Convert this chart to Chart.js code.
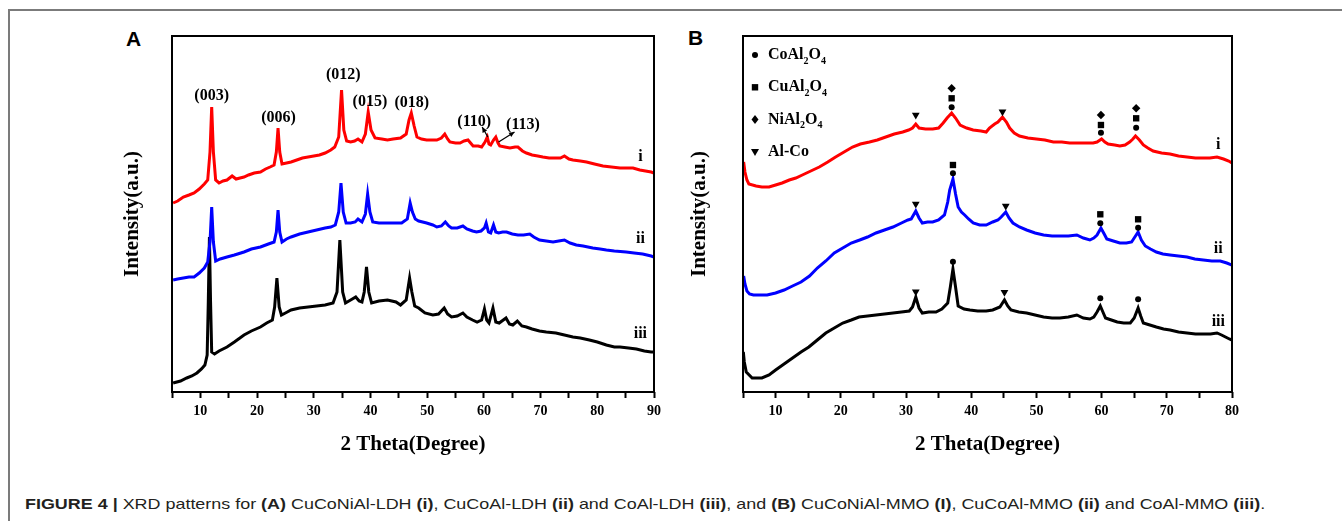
<!DOCTYPE html>
<html>
<head>
<meta charset="utf-8">
<script src="https://cdn.jsdelivr.net/npm/chart.js@4.4.0/dist/chart.umd.min.js"></script>
<style>
    body { margin: 0; background: #fff; width: 1342px; height: 521px; overflow: hidden; position: relative; }
    .frame { position: absolute; left: 8px; top: 9px; right: -4px; bottom: -4px; border-top: 2px solid #7b7b7b; border-left: 2px solid #7b7b7b; }
    .panel { position: absolute; top: 0; }
    .letter { position: absolute; font: bold 21px "Liberation Sans", Arial, sans-serif; color: #000; }
    #caption { position: absolute; left: 25px; top: 495px; font: 15px "Liberation Sans", Arial, sans-serif; color: #231f20; white-space: nowrap; transform-origin: 0 0; }
</style>
</head>
<body>
<div class="frame"></div>
<div class="letter" style="left:126px; top:27px;">A</div>
<div class="letter" style="left:688px; top:26px;">B</div>
<canvas id="chart-a" class="panel" style="left:0" width="690" height="470"></canvas>
<canvas id="chart-b" class="panel" style="left:690px" width="652" height="470"></canvas>
<div id="caption"><b>FIGURE 4 |</b> XRD patterns for <b>(A)</b> CuCoNiAl-LDH <b>(i)</b>, CuCoAl-LDH <b>(ii)</b> and CoAl-LDH <b>(iii)</b>, and <b>(B)</b> CuCoNiAl-MMO <b>(I)</b>, CuCoAl-MMO <b>(ii)</b> and CoAl-MMO <b>(iii)</b>.</div>

<script>
// ── Panel A: LDH patterns (2θ, intensity a.u.) ───────────────────────────────

var aRedX = [5.2, 6, 7, 8, 8.9, 9.8, 10.7, 11.3, 11.7, 12.0, 12.3, 12.7, 13.3, 14, 14.7, 15.6, 16.3, 17, 17.7, 18.5, 19.5, 20.6, 21.5, 22.3, 23.0, 23.4, 23.7, 24.0, 24.4, 25.2, 26, 27, 28, 29, 30, 31, 32, 33, 33.7, 34.4, 34.9, 35.3, 35.8, 36.5, 37.2, 37.8, 38.5, 39.1, 39.6, 40.1, 40.8, 42, 43, 44, 45.3, 46.3, 46.8, 47.2, 47.7, 48.2, 49, 49.9, 51, 51.7, 52.5, 53.1, 53.6, 54, 55, 55.8, 56.5, 57.2, 58.1, 59.0, 59.6, 60.2, 60.6, 60.9, 61.2, 61.7, 62.1, 62.5, 62.8, 63.7, 64.6, 65.5, 66, 66.8, 67.5, 68.5, 69.5, 70.4, 71.5, 72.5, 73.5, 74.2, 75, 75.7, 77, 78.1, 79.5, 81, 82.5, 84, 85.2, 86.3, 87.5, 88.5, 89.5, 90];
var aRedY = [189, 191, 195, 197, 199, 203, 208, 212, 240, 285, 240, 212, 209, 211, 212, 216, 213, 214, 215, 217, 219, 220, 223, 225, 227, 240, 264, 240, 228, 229, 230, 232, 234, 235, 236, 237, 239, 242, 245, 255, 302, 262, 251, 250, 251, 253, 250, 258, 280, 262, 254, 253, 252, 253, 254, 258, 272, 279, 266, 255, 253, 252, 252, 252, 254, 258, 253, 250, 249, 249, 251, 252, 246, 246, 245, 250, 255, 248, 247, 252, 255, 249, 246, 245, 244, 245, 245, 241, 239, 237, 236, 235, 234, 234, 234, 236, 233, 232, 231, 230, 228, 226, 225, 224, 224, 224, 222, 221, 220, 219];

var aBlueX = [5.2, 6, 7, 8, 8.9, 9.8, 10.7, 11.3, 11.7, 12.0, 12.3, 12.7, 13.5, 14.7, 16, 17.7, 19, 20.6, 22, 23.0, 23.4, 23.7, 24.0, 24.4, 25.2, 26, 27.5, 29, 30.5, 32, 33, 33.8, 34.4, 34.8, 35.2, 35.7, 36.5, 37.3, 37.8, 38.5, 39.1, 39.5, 39.9, 40.4, 41.5, 43, 44.5, 45.5, 46.5, 47.0, 47.4, 47.9, 48.5, 49.9, 51, 51.7, 52.5, 53.2, 53.8, 54.3, 55.3, 56.3, 57, 58, 58.7, 59.5, 60.1, 60.4, 60.8, 61.2, 61.7, 62.1, 62.6, 63.3, 64, 65, 66, 67, 68.1, 68.8, 69.8, 71, 72.2, 73.2, 74.2, 75.2, 76.3, 77.5, 79.2, 80.5, 81.6, 83, 85.1, 86.5, 88, 89.5, 90];
var aBlueY = [112, 113, 114, 115, 115, 119, 124, 130, 150, 185, 150, 131, 133, 135, 137, 140, 143, 145, 148, 150, 160, 182, 160, 150, 153, 155, 158, 160, 162, 164, 165, 167, 180, 209, 180, 169, 169, 170, 173, 170, 178, 198, 180, 170, 169, 169, 169, 169, 173, 189, 180, 173, 171, 169, 167, 165, 166, 170, 166, 164, 164, 166, 163, 161, 160, 161, 164, 169, 160, 159, 167, 160, 159, 160, 160, 158, 157, 157, 158, 155, 152, 151, 150, 151, 152, 149, 147, 146, 144, 143, 142, 141, 140, 139, 138, 136, 135];

var aBlackX = [5.2, 6.5, 7.6, 8.5, 9.4, 10.2, 10.8, 11.2, 11.4, 11.6, 11.8, 12.0, 12.5, 13.3, 14.7, 16, 17.7, 19, 20.6, 21.7, 22.7, 23.1, 23.5, 23.9, 24.3, 25, 26, 27.5, 29, 30.5, 32, 33.4, 34.1, 34.6, 35.1, 35.6, 36.5, 37.4, 38, 38.5, 38.9, 39.3, 39.7, 40.2, 41.5, 43, 44.5, 45.3, 46.3, 46.9, 47.3, 47.8, 48.5, 49.6, 51, 52, 53, 53.6, 54.3, 55.3, 56.3, 57, 58, 58.8, 59.6, 60.1, 60.5, 60.9, 61.6, 62.1, 62.7, 63.9, 64.5, 65.1, 65.9, 66.7, 67.5, 68.5, 69.8, 71, 72.7, 74.2, 75.7, 77, 78.6, 80, 81.6, 83, 84, 85.5, 86.9, 88.3, 89.5, 90];
var aBlackY = [9, 11, 14, 16, 19, 23, 27, 37, 90, 155, 90, 40, 38, 41, 45, 50, 57, 61, 65, 69, 72, 85, 114, 85, 77, 79, 82, 84, 85, 86, 87, 89, 100, 152, 100, 89, 92, 95, 91, 90, 100, 125, 100, 89, 91, 92, 90, 87, 92, 114, 100, 86, 84, 79, 77, 78, 84, 78, 75, 76, 79, 75, 72, 70, 72, 83, 72, 69, 84, 70, 69, 74, 68, 67, 71, 66, 65, 63, 61, 60, 59, 57, 55, 54, 52, 50, 47, 45, 45, 44, 43, 41, 40, 40];

// peak indices above pattern i
var aPeakNames = ['(003)', '(006)', '(012)', '(015)', '(018)', '(110)', '(113)'];
var aPeakX     = [12, 23.8, 35.2, 39.9, 47.3, 58.3, 66.9];
var aPeakY     = [296, 274, 317, 290, 289, 270, 267];
// arrows: from peak (x1,y1) to label (x2,y2)
var aArrows = [[60.7, 255, 59.7, 265], [62.6, 250, 65.4, 260]];

var aTraceNames = ['i', 'ii', 'iii'];
var aTraceX     = [87.6, 87.6, 87.6];
var aTraceY     = [235, 153, 58];

// ── Panel B: MMO patterns ───────────────────────────────────────────────────

var bRedX = [5.1, 5.3, 5.6, 5.9, 7, 7.9, 9, 10, 11, 12.1, 13.1, 14.1, 15.4, 16.7, 18, 19.2, 20.5, 21.8, 23, 24.4, 25.6, 26.9, 28.2, 29.5, 30.4, 31, 31.5, 32, 33, 34.1, 35, 35.7, 36.3, 37, 37.6, 38.3, 39.3, 40.3, 41.5, 42.3, 42.8, 43.6, 44.1, 44.8, 45.4, 45.9, 46.6, 47.4, 48.7, 50, 51.3, 52.6, 53.9, 55.1, 56.4, 57.7, 58.7, 59.3, 60, 60.5, 61, 62, 62.8, 63.6, 64.3, 64.8, 65.2, 65.8, 66.4, 67.1, 67.9, 69.2, 70.5, 71.8, 73.1, 74.4, 75.6, 76.6, 77.7, 78.7, 79.5, 80];
var bRedY = [230, 220, 212, 208, 206, 205, 205, 207, 209, 212, 214, 217, 221, 225, 230, 235, 240, 245, 248, 250, 252, 255, 258, 260, 262, 264, 268, 264, 263, 263, 264, 269, 274, 279, 274, 267, 264, 262, 261, 260, 264, 268, 270, 275, 270, 264, 259, 256, 254, 253, 252, 250, 250, 249, 249, 249, 249, 250, 253, 250, 248, 247, 246, 247, 250, 253, 256, 252, 247, 244, 241, 239, 238, 236, 235, 234, 234, 234, 235, 233, 231, 229];

var bBlueX = [5.1, 5.3, 5.6, 6, 6.6, 7.6, 8.7, 10, 11.3, 12.6, 13.9, 15.2, 16.4, 17.7, 19, 20.3, 21.6, 22.9, 24.1, 25.4, 26.7, 28, 29.3, 30.3, 30.8, 31.5, 32, 32.5, 33.3, 34.1, 35, 35.9, 36.4, 36.7, 37.2, 37.6, 38, 38.5, 39, 39.6, 40.3, 41.3, 42.3, 43.3, 44.1, 44.6, 45.3, 45.8, 46.4, 47.4, 48.5, 49.8, 51.1, 52.4, 53.6, 54.9, 56.2, 57.2, 58.2, 58.8, 59.3, 59.9, 60.4, 60.8, 61.8, 62.8, 63.8, 64.6, 65.1, 65.6, 66.1, 66.7, 67.5, 68.4, 69.4, 70.5, 71.8, 73.1, 74.3, 75.6, 76.9, 78.2, 79.2, 80];
var bBlueY = [116, 108, 101, 98, 97, 97, 97, 99, 102, 106, 110, 116, 124, 131, 139, 144, 149, 152, 155, 159, 162, 165, 169, 172, 173, 181, 174, 169, 170, 170, 172, 177, 190, 202, 213, 198, 185, 180, 177, 173, 169, 167, 167, 170, 172, 175, 180, 174, 169, 165, 162, 159, 157, 156, 156, 156, 157, 154, 152, 154, 157, 164, 158, 153, 151, 149, 149, 150, 155, 160, 152, 146, 143, 140, 138, 137, 136, 135, 133, 132, 131, 131, 129, 127];

var bBlackX = [5.05, 5.2, 5.5, 6.4, 7.9, 9, 10, 11.3, 12.6, 13.9, 15.1, 16.4, 17.7, 19, 20.3, 21.6, 22.8, 24.1, 25.4, 26.7, 28, 29.3, 30.5, 31, 31.5, 32, 32.5, 33.5, 34.6, 35.5, 36.4, 36.8, 37.2, 37.6, 38, 38.9, 39.8, 41, 42.3, 43.3, 44.4, 45.1, 45.6, 46.1, 47.3, 48.5, 49.8, 51.1, 52.4, 53.6, 54.9, 56.2, 57.2, 58.2, 58.8, 59.3, 59.8, 60.2, 60.6, 61.5, 62.4, 63.4, 64.4, 65, 65.6, 66, 66.4, 67.4, 68.4, 69.5, 70.5, 71.8, 73.1, 74.4, 75.6, 76.7, 77.7, 78.4, 79, 79.6, 80];
var bBlackY = [40, 30, 20, 14, 14, 17, 22, 28, 34, 40, 45, 52, 59, 64, 69, 72, 75, 76, 77, 78, 79, 80, 81, 85, 95, 84, 79, 80, 80, 83, 89, 105, 123, 105, 86, 83, 82, 81, 81, 82, 85, 92, 86, 82, 80, 79, 77, 75, 74, 74, 75, 77, 74, 73, 75, 80, 86, 80, 74, 72, 70, 69, 69, 74, 84, 76, 69, 67, 65, 63, 62, 60, 59, 58, 58, 58, 59, 57, 55, 53, 52];

// phase markers above the peaks
var bCircle  = [[37, 284.7], [59.9, 259.3], [65.3, 264.3], [37.2, 218.7], [59.8, 168.7], [65.6, 164.3], [37.2, 130.3], [59.8, 93.7], [65.6, 92.7]];
var bSquare  = [[37, 293.7], [59.9, 267], [65.3, 273.7], [37.2, 227], [59.8, 177.7], [65.6, 172.7]];
var bDiamond = [[37, 303.7], [59.9, 277], [65.3, 283.7]];
var bTri     = [[31.5, 277], [44.8, 280.3], [31.5, 188], [45.3, 186], [31.5, 100.3], [45.1, 99.7]];

var bLegend = [
    { shape: 'circle',  parts: [['CoAl', 0], ['2', 1], ['O', 0], ['4', 1]] },
    { shape: 'square',  parts: [['CuAl', 0], ['2', 1], ['O', 0], ['4', 1]] },
    { shape: 'diamond', parts: [['NiAl', 0], ['2', 1], ['O', 0], ['4', 1]] },
    { shape: 'tri',     parts: [['Al-Co', 0]] }
];

var bTraceNames = ['i', 'ii', 'iii'];
var bTraceX     = [77.9, 77.9, 77.9];
var bTraceY     = [247, 143, 70];

// ── helpers ─────────────────────────────────────────────────────────────────

var SERIF = '"Liberation Serif", "Times New Roman", serif';

function pts(xs, ys) {
    return xs.map(function (x, i) { return { x: x, y: ys[i] }; });
}

function trace(xs, ys, color) {
    return {
        data: pts(xs, ys),
        showLine: true,
        borderColor: color,
        borderWidth: 3,
        pointRadius: 0,
        tension: 0,
        fill: false,
        order: 2
    };
}

function marks(list, style, radius, rotation) {
    return {
        data: list.map(function (p) { return { x: p[0], y: p[1] }; }),
        showLine: false,
        pointStyle: style,
        pointRadius: radius,
        pointRotation: rotation || 0,
        pointBackgroundColor: '#000',
        pointBorderWidth: 0,
        order: 1
    };
}

function shape(ctx, kind, x, y) {
    ctx.beginPath();
    if (kind === 'circle') {
        ctx.arc(x, y, 3, 0, Math.PI * 2);
    } else if (kind === 'square') {
        ctx.rect(x - 3.2, y - 3.2, 6.4, 6.4);
    } else if (kind === 'diamond') {
        ctx.moveTo(x, y - 4.5); ctx.lineTo(x + 3.5, y); ctx.lineTo(x, y + 4.5); ctx.lineTo(x - 3.5, y);
    } else {
        ctx.moveTo(x - 4, y - 3); ctx.lineTo(x + 4, y - 3); ctx.lineTo(x, y + 4);
    }
    ctx.closePath();
    ctx.fill();
}

// frame, axis titles, peak names, trace names, arrows, legend
function decor(cfg) {
    return {
        id: 'decor',
        afterDraw: function (chart) {
            var ctx = chart.ctx, a = chart.chartArea;
            var sx = chart.scales.x, sy = chart.scales.y;
            ctx.save();
            ctx.strokeStyle = '#000';
            ctx.lineWidth = 2;
            ctx.strokeRect(a.left, a.top, a.right - a.left, a.bottom - a.top);

            ctx.fillStyle = '#000';
            ctx.textAlign = 'center';
            ctx.textBaseline = 'middle';
            ctx.font = 'bold 21px ' + SERIF;
            ctx.fillText('2 Theta(Degree)', (a.left + a.right) / 2, a.bottom + 53);
            ctx.save();
            ctx.translate(a.left - cfg.yGap, (a.top + a.bottom) / 2);
            ctx.rotate(-Math.PI / 2);
            ctx.fillText('Intensity(a.u.)', 0, 0);
            ctx.restore();

            ctx.font = 'bold 16px ' + SERIF;
            (cfg.names || []).forEach(function (t, i) {
                ctx.fillText(t, sx.getPixelForValue(cfg.nx[i]), sy.getPixelForValue(cfg.ny[i]));
            });

            ctx.lineWidth = 1.3;
            (cfg.arrows || []).forEach(function (r) {
                var x1 = sx.getPixelForValue(r[0]), y1 = sy.getPixelForValue(r[1]);
                var x2 = sx.getPixelForValue(r[2]), y2 = sy.getPixelForValue(r[3]);
                var ang = Math.atan2(y2 - y1, x2 - x1);
                ctx.beginPath();
                ctx.moveTo(x1, y1);
                ctx.lineTo(x2, y2);
                ctx.stroke();
                ctx.beginPath();
                ctx.moveTo(x2, y2);
                ctx.lineTo(x2 - 6 * Math.cos(ang - 0.45), y2 - 6 * Math.sin(ang - 0.45));
                ctx.lineTo(x2 - 6 * Math.cos(ang + 0.45), y2 - 6 * Math.sin(ang + 0.45));
                ctx.closePath();
                ctx.fill();
            });

            (cfg.legend || []).forEach(function (item, i) {
                var y = a.top + 19 + i * 32.3;
                shape(ctx, item.shape, a.left + 12, y);
                var x = a.left + 25;
                ctx.textAlign = 'left';
                item.parts.forEach(function (p) {
                    ctx.font = p[1] ? 'bold 10px ' + SERIF : 'bold 16px ' + SERIF;
                    ctx.fillText(p[0], x, y + (p[1] ? 6 : 0));
                    x += ctx.measureText(p[0]).width;
                });
            });
            ctx.restore();
        }
    };
}

function options(xmax, pad) {
    return {
        responsive: false,
        animation: false,
        devicePixelRatio: 1,
        events: [],
        layout: { padding: pad },
        plugins: { legend: { display: false }, tooltip: { enabled: false } },
        scales: {
            x: {
                type: 'linear',
                min: 5,
                max: xmax,
                afterFit: function (s) { s.height = 78; },
                border: { display: false },
                grid: { drawOnChartArea: false, drawTicks: true, tickLength: 6, tickWidth: 2, tickColor: '#000' },
                ticks: {
                    stepSize: 5,
                    autoSkip: false,
                    maxRotation: 0,
                    padding: 5,
                    color: '#000',
                    font: { family: SERIF, weight: 'bold', size: 14 },
                    callback: function (v) { return v % 10 === 0 ? v : ''; }
                }
            },
            y: { display: false, min: 0, max: 356 }
        }
    };
}

/* global Chart */
new Chart(document.getElementById('chart-a'), {
    type: 'scatter',
    data: {
        datasets: [
            trace(aRedX, aRedY, '#ff0000'),
            trace(aBlueX, aBlueY, '#0000ff'),
            trace(aBlackX, aBlackY, '#000000')
        ]
    },
    options: options(90, { left: 172, top: 36, right: 36, bottom: 0 }),
    plugins: [decor({
        yGap: 39,
        names: aPeakNames.concat(aTraceNames),
        nx: aPeakX.concat(aTraceX),
        ny: aPeakY.concat(aTraceY),
        arrows: aArrows
    })]
});

new Chart(document.getElementById('chart-b'), {
    type: 'scatter',
    data: {
        datasets: [
            trace(bRedX, bRedY, '#ff0000'),
            trace(bBlueX, bBlueY, '#0000ff'),
            trace(bBlackX, bBlackY, '#000000'),
            marks(bCircle, 'circle', 3),
            marks(bSquare, 'rect', 4.5),
            marks(bDiamond, 'rectRot', 4.2),
            marks(bTri, 'triangle', 4.5, 180)
        ]
    },
    options: options(80, { left: 53, top: 36, right: 110, bottom: 0 }),
    plugins: [decor({
        yGap: 43,
        names: bTraceNames,
        nx: bTraceX,
        ny: bTraceY,
        legend: bLegend
    })]
});

// stretch caption to the printed width
var cap = document.getElementById('caption');
cap.style.transform = 'scaleX(' + (1240 / cap.offsetWidth).toFixed(3) + ')';
</script>
</body>
</html>
